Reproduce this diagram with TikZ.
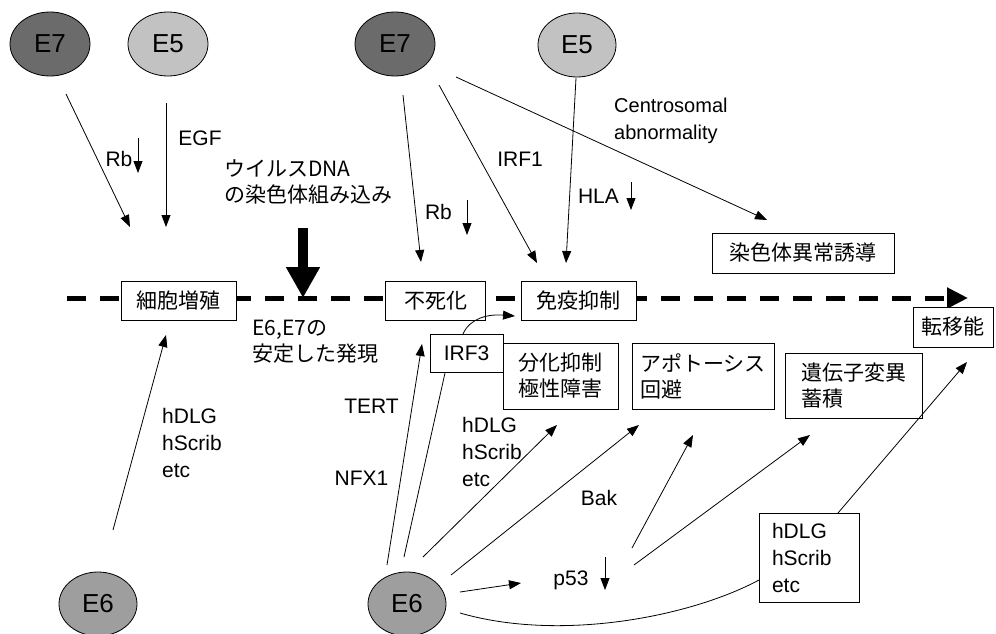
\documentclass[tikz,border=0pt]{standalone}
\usepackage{fontspec}
\setmainfont{Liberation Sans}
\newfontfamily\jp{Noto Sans CJK JP}
\usetikzlibrary{arrows.meta,shapes.geometric}
\definecolor{e7c}{gray}{0.42}
\definecolor{e5c}{gray}{0.76}
\definecolor{e6c}{gray}{0.62}
\newcommand\latf{\fontsize{21}{27}\selectfont}
\newcommand\jpf{\jp\fontsize{21}{26}\selectfont}
\begin{document}
\begin{tikzpicture}[x=1pt,y=-1pt,
  every node/.style={font=\latf, inner sep=0pt},
  oval/.style={ellipse, draw, line width=0.8pt, minimum width=80pt, minimum height=64pt, font=\fontsize{26}{26}\selectfont},
  box/.style={draw, line width=1pt, fill=white, minimum height=39pt, font=\jpf},
  lbox/.style={draw, line width=1pt, fill=white},
  arr/.style={line width=0.8pt, -{Triangle[length=12pt,width=9pt]}},
  plain/.style={line width=0.8pt},
  jtext/.style={font=\jpf}
]
\useasboundingbox (0,0) rectangle (996,634);

% main dashed time line
\coordinate (dl0) at (67,298);
\coordinate (dl1) at (968,298);
\draw[line width=5pt, dash pattern=on 19pt off 14pt, -{Triangle[length=21pt,width=20pt]}] (dl0) -- (dl1);

% big arrow
\coordinate (big0) at (303,228);
\coordinate (big1) at (303,298);
\draw[line width=10pt, -{Triangle[length=31pt,width=32pt]}] (big0) -- (big1);

% ellipses
\node[oval, fill=e7c] (e7a) at (50,44) {E7};
\node[oval, fill=e5c] (e5a) at (168,44) {E5};
\node[oval, fill=e7c] (e7b) at (395,44) {E7};
\node[oval, fill=e5c, minimum width=78pt] (e5b) at (577,45) {E5};
\node[oval, fill=e6c, minimum width=78pt] (e6a) at (98,604) {E6};
\node[oval, fill=e6c, minimum width=78pt] (e6b) at (407,604) {E6};

% boxes
\node[box, minimum width=115pt] (prolif) at (178.5,300.5) {細胞増殖};
\node[box, minimum width=100pt] (immort) at (435.5,300.5) {不死化};
\node[box, minimum width=115pt] (immune) at (578.5,300.5) {免疫抑制};
\node[box, minimum width=182pt, minimum height=40pt] (chrom) at (803,253) {染色体異常誘導};
\node[box, minimum width=80pt, minimum height=40pt] (meta) at (953,327) {転移能};
\node[lbox, minimum width=73pt, minimum height=38pt] (irf3) at (466.5,353) {IRF3};
\node[box, minimum width=115pt, minimum height=66pt, align=left] (diff) at (560.5,376) {分化抑制\\極性障害};
\node[box, minimum width=142pt, minimum height=66pt, align=left] (apop) at (703,376) {アポトーシス\\回避};
\node[box, minimum width=137pt, minimum height=65pt, align=left] (mut) at (853.5,385.5) {遺伝子変異\\蓄積};
\node[lbox, align=left, text width=74pt, inner xsep=13pt, minimum height=89pt] (hbox) at (809,557.5) {hDLG\\hScrib\\etc};

% labels
\node (rb1) at (119,158.5) {Rb};
\node (egf) at (200,138.5) {EGF};
\node[jtext, anchor=west, align=left] (wdna) at (224,182) {ウイルスDNA\\の染色体組み込み};
\node (rb2) at (438.5,211.5) {Rb};
\node (irf1) at (520,159.5) {IRF1};
\node (hla) at (598.5,196) {HLA};
\node[anchor=west, align=left, font=\fontsize{20}{27}\selectfont] (centro) at (614,121) {Centrosomal\\abnormality};
\node[jtext, anchor=west, align=left] (stab) at (252,342) {E6,E7の\\安定した発現};
\node[anchor=west, align=left] (hl1) at (162,443) {hDLG\\hScrib\\etc};
\node[anchor=west, align=left] (hl2) at (462,452) {hDLG\\hScrib\\etc};
\node (tert) at (371.5,406.5) {TERT};
\node (nfx1) at (361.5,478.5) {NFX1};
\node (bak) at (599,497.5) {Bak};
\node (p53) at (571,580) {p53};

% small down arrows
\coordinate (d1a) at (138,138); \coordinate (d1b) at (138,173);
\coordinate (d2a) at (467,200); \coordinate (d2b) at (467,235);
\coordinate (d3a) at (631,182); \coordinate (d3b) at (631,210);
\coordinate (d4a) at (605,557); \coordinate (d4b) at (605,590);
\draw[arr] (d1a) -- (d1b);
\draw[arr] (d2a) -- (d2b);
\draw[arr] (d3a) -- (d3b);
\draw[arr] (d4a) -- (d4b);

% connector end points
\coordinate (a1s) at (66,94);   \coordinate (a1e) at (130,227);
\coordinate (a2s) at (166,103); \coordinate (a2e) at (166,227);
\coordinate (a3s) at (403,95);  \coordinate (a3e) at (421,262);
\coordinate (a4s) at (439,85);  \coordinate (a4e) at (537,263);
\coordinate (a5s) at (576,78);  \coordinate (a5e) at (566,263);
\coordinate (a6s) at (456,77);  \coordinate (a6e) at (767,220);
\coordinate (a7s) at (113,530); \coordinate (a7e) at (166,335);
\coordinate (a8s) at (387,565); \coordinate (a8e) at (422,344);
\coordinate (a9s) at (404,557); \coordinate (a9e) at (445,373);
\coordinate (a10s) at (463,334); \coordinate (a10e) at (515,316);
\coordinate (a11s) at (423,557); \coordinate (a11e) at (557,425);
\coordinate (a12s) at (451,575); \coordinate (a12e) at (639,425);
\coordinate (a13s) at (460,592); \coordinate (a13e) at (521,583);
\coordinate (a14s) at (460,613); \coordinate (a14e) at (759,580);
\coordinate (a15s) at (632,548); \coordinate (a15e) at (693,435);
\coordinate (a16s) at (634,565); \coordinate (a16e) at (810,435);
\coordinate (a17s) at (838,513); \coordinate (a17e) at (967,362);

\draw[arr] (a1s) -- (a1e);
\draw[arr] (a2s) -- (a2e);
\draw[arr] (a3s) -- (a3e);
\draw[arr] (a4s) -- (a4e);
\draw[arr] (a5s) -- (a5e);
\draw[arr] (a6s) -- (a6e);
\draw[arr] (a7s) -- (a7e);
\draw[arr] (a8s) -- (a8e);
\draw[plain] (a9s) -- (a9e);
\draw[arr] (a10s) .. controls (470,318) and (488,314) .. (a10e);
\draw[arr] (a11s) -- (a11e);
\draw[arr] (a12s) -- (a12e);
\draw[arr] (a13s) -- (a13e);
\draw[plain] (a14s) .. controls (560,642) and (690,617) .. (a14e);
\draw[arr] (a15s) -- (a15e);
\draw[arr] (a16s) -- (a16e);
\draw[arr] (a17s) -- (a17e);
\end{tikzpicture}
\end{document}
